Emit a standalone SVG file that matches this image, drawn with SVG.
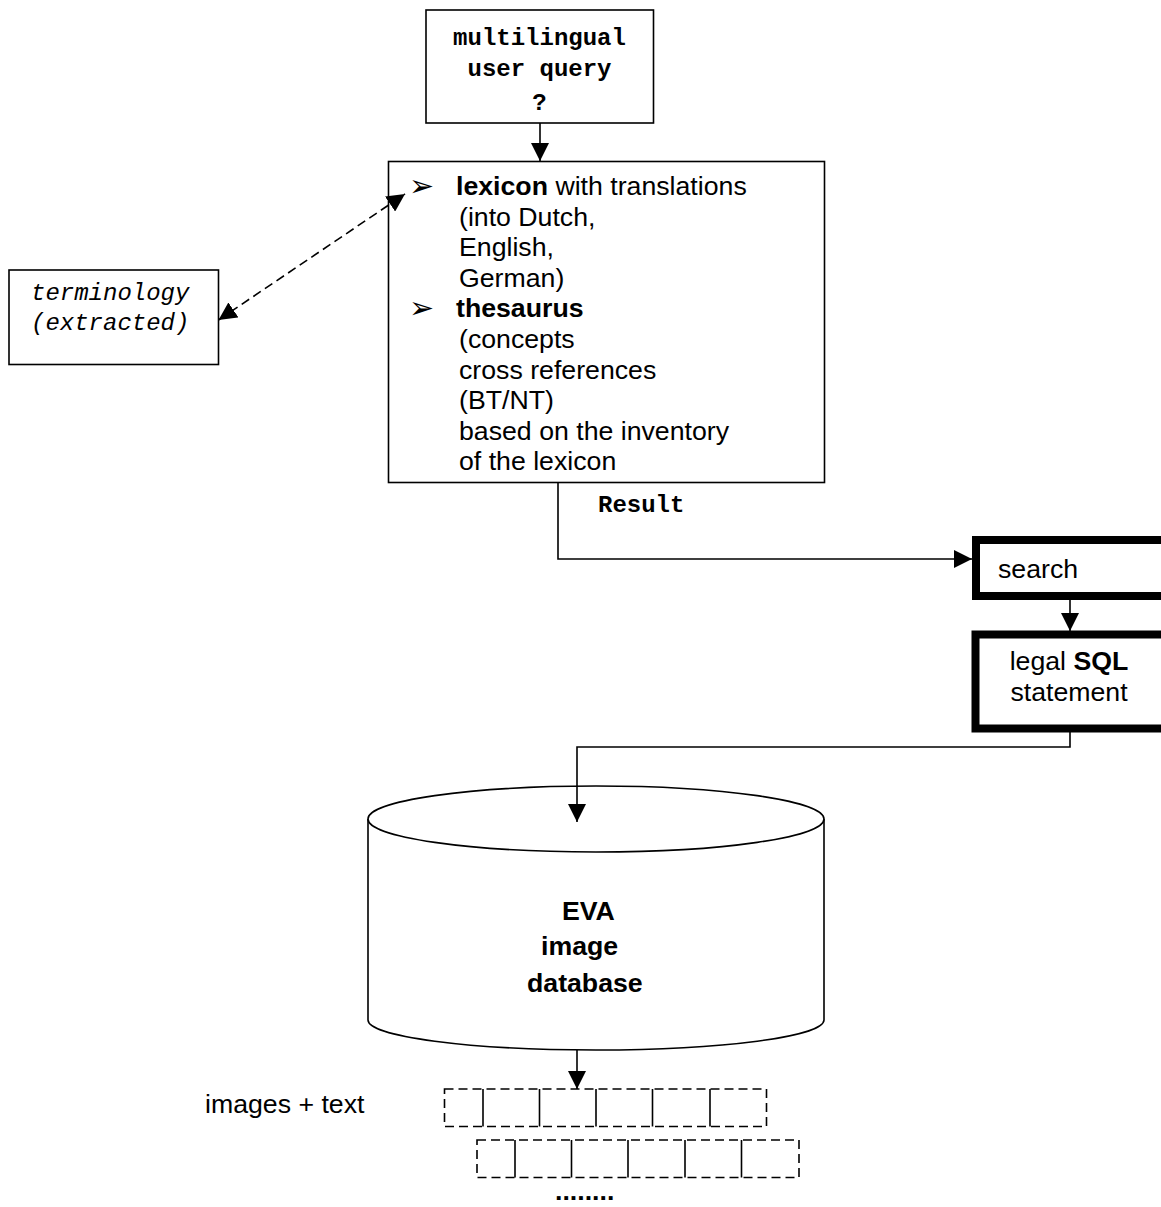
<svg xmlns="http://www.w3.org/2000/svg" width="1161" height="1207" viewBox="0 0 1161 1207">
  <style>
    .box { fill: #fff; stroke: #000; stroke-width: 1.6; }
    .thick { fill: #fff; stroke: #000; stroke-width: 8; }
    .line { fill: none; stroke: #000; stroke-width: 1.6; }
    .dash { fill: none; stroke: #000; stroke-width: 1.6; stroke-dasharray: 9 5; }
    .sans { font-family: "Liberation Sans", Arial, sans-serif; font-size: 26.7px; fill: #000; }
    .mono { font-family: "Liberation Mono", "Courier New", monospace; font-size: 24px; fill: #000; }
    .b { font-weight: bold; }
    .bullet { font-family: "DejaVu Sans", sans-serif; font-size: 30px; fill: #000; }
  </style>
  <defs>
    <marker id="arrow" viewBox="0 0 18 18" markerWidth="18" markerHeight="18" markerUnits="userSpaceOnUse" refX="18" refY="9" orient="auto-start-reverse">
      <path d="M0,0 L18,9 L0,18 z" fill="#000"/>
    </marker>
  </defs>

  <rect width="1161" height="1207" fill="#fff"/>

  <!-- query box -->
  <g id="query">
    <rect class="box" x="426" y="10" width="227.5" height="113"/>
    <text class="mono b" x="539.5" y="45" text-anchor="middle">multilingual</text>
    <text class="mono b" x="539.5" y="76" text-anchor="middle">user query</text>
    <text class="mono b" x="539.5" y="110" text-anchor="middle">?</text>
  </g>

  <!-- lexicon / thesaurus box -->
  <g id="lexicon">
    <rect class="box" x="388.5" y="161.5" width="436" height="321"/>
    <text class="bullet" x="409" y="196">➢</text>
    <text class="bullet" x="409" y="318">➢</text>
    <text class="sans" x="456" y="195"><tspan class="b">lexicon</tspan> with translations</text>
    <text class="sans">
      <tspan x="459" y="225.6">(into Dutch,</tspan>
      <tspan x="459" y="256.2">English,</tspan>
      <tspan x="459" y="286.8">German)</tspan>
    </text>
    <text class="sans b" x="456" y="317.4">thesaurus</text>
    <text class="sans">
      <tspan x="459" y="348">(concepts</tspan>
      <tspan x="459" y="378.6">cross references</tspan>
      <tspan x="459" y="409.2">(BT/NT)</tspan>
      <tspan x="459" y="439.8">based on the inventory</tspan>
      <tspan x="459" y="470.4">of the lexicon</tspan>
    </text>
  </g>

  <!-- terminology box -->
  <g id="terminology">
    <rect class="box" x="9" y="270" width="209.5" height="94.5"/>
    <text class="mono" font-style="italic" font-size="23.7" x="31" y="300">terminology</text>
    <text class="mono" font-style="italic" font-size="23.7" x="31" y="330">(extracted)</text>
  </g>

  <!-- result label -->
  <g id="result">
    <text class="mono b" x="598" y="512">Result</text>
  </g>

  <!-- search box -->
  <g id="search">
    <rect class="thick" x="976" y="540" width="200" height="56"/>
    <text class="sans" x="998" y="578">search</text>
  </g>

  <!-- SQL statement box -->
  <g id="sql">
    <rect class="thick" x="975.5" y="634.5" width="200" height="94"/>
    <text class="sans" x="1069" y="670" text-anchor="middle">legal <tspan class="b">SQL</tspan></text>
    <text class="sans" x="1069" y="701" text-anchor="middle">statement</text>
  </g>

  <!-- database cylinder -->
  <g id="database">
    <path class="box" d="M368,819 L368,1020 A228,30 0 0 0 824,1020 L824,819"/>
    <ellipse class="box" cx="596" cy="819" rx="228" ry="33"/>
    <text class="sans b" font-size="31" x="562" y="920">EVA</text>
    <text class="sans b" font-size="31" x="541" y="955">image</text>
    <text class="sans b" font-size="31" x="527" y="991.5">database</text>
  </g>

  <!-- result rows -->
  <g id="images">
    <text class="sans" x="205" y="1113">images + text</text>
    <rect class="dash" x="444.5" y="1089" width="322" height="37.5"/>
    <path class="line" d="M483,1089 V1126.5 M539.5,1089 V1126.5 M596,1089 V1126.5 M652.5,1089 V1126.5 M710,1089 V1126.5"/>
    <rect class="dash" x="477" y="1140" width="322" height="37.5"/>
    <path class="line" d="M515,1140 V1177.5 M571.5,1140 V1177.5 M628,1140 V1177.5 M685,1140 V1177.5 M741.5,1140 V1177.5"/>
    <text class="sans b" x="555" y="1200">........</text>
  </g>

  <!-- connectors -->
  <g id="connectors">
    <line class="line" x1="540" y1="123" x2="540" y2="161" marker-end="url(#arrow)"/>
    <line class="dash" x1="218.5" y1="320" x2="405" y2="194" marker-start="url(#arrow)" marker-end="url(#arrow)"/>
    <polyline class="line" points="558,483 558,559 972,559" marker-end="url(#arrow)"/>
    <line class="line" x1="1070" y1="600" x2="1070" y2="631" marker-end="url(#arrow)"/>
    <polyline class="line" points="1070,732 1070,747 577,747 577,822" marker-end="url(#arrow)"/>
    <line class="line" x1="577" y1="1050" x2="577" y2="1089" marker-end="url(#arrow)"/>
  </g>
</svg>
